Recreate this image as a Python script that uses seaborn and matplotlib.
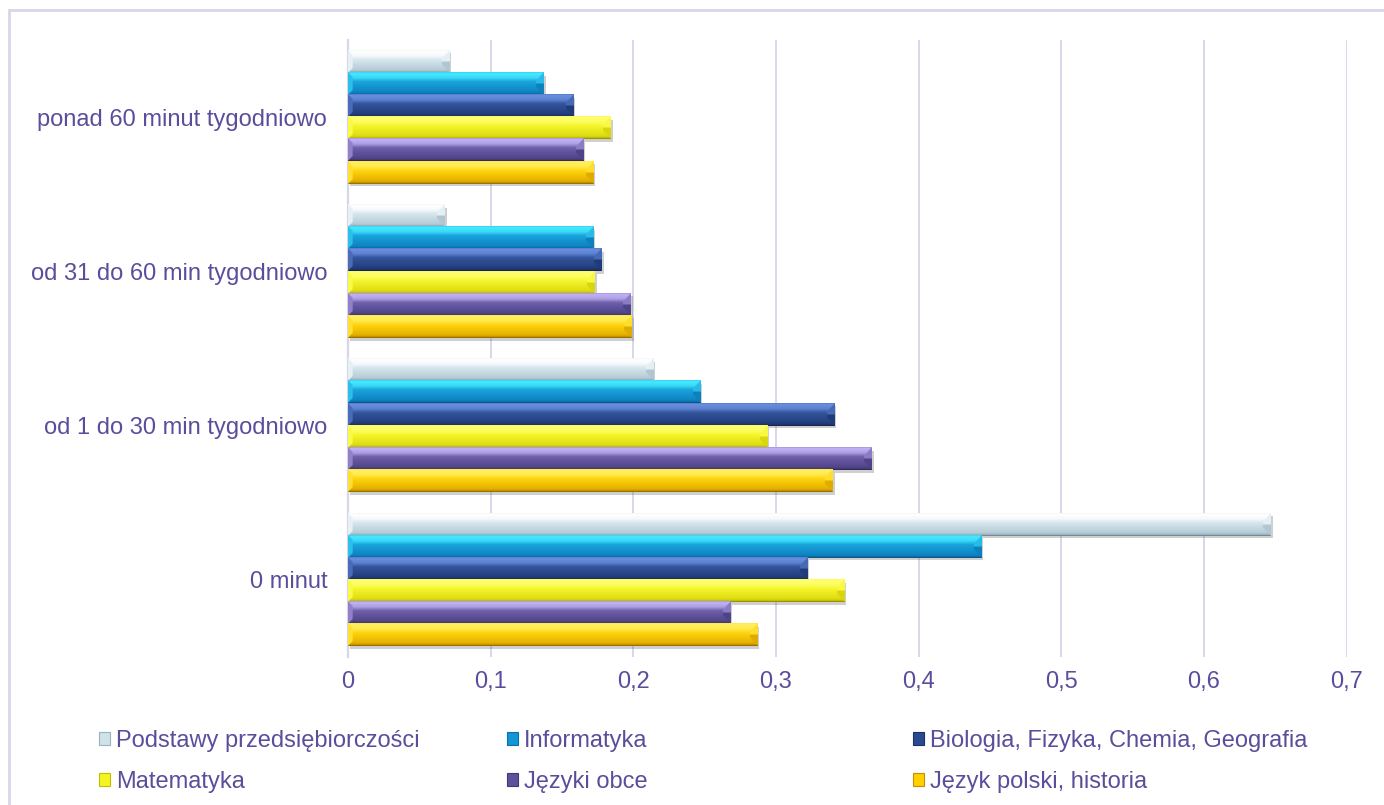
import numpy as np
import pandas as pd
import matplotlib
matplotlib.use("Agg")
import matplotlib.pyplot as plt
import matplotlib.colors as mcolors
import matplotlib.patheffects as pe
from matplotlib.patches import Patch, Rectangle
import seaborn as sns

# ---- data -------------------------------------------------------------
categories = [
    "ponad 60 minut tygodniowo",
    "od 31 do 60 min tygodniowo",
    "od 1 do 30 min tygodniowo",
    "0 minut",
]
series = [
    "Podstawy przedsiębiorczości",
    "Informatyka",
    "Biologia, Fizyka, Chemia, Geografia",
    "Matematyka",
    "Języki obce",
    "Język polski, historia",
]
podstawy = [0.071, 0.068, 0.214, 0.647]
informatyka = [0.137, 0.172, 0.247, 0.444]
biologia = [0.158, 0.178, 0.341, 0.322]
matematyka = [0.184, 0.173, 0.294, 0.348]
jezyki_obce = [0.165, 0.198, 0.367, 0.268]
polski = [0.172, 0.199, 0.340, 0.287]
x_ticks = [0, 0.1, 0.2, 0.3, 0.4, 0.5, 0.6, 0.7]
x_tick_labels = ["0", "0,1", "0,2", "0,3", "0,4", "0,5", "0,6", "0,7"]

values = [podstawy, informatyka, biologia, matematyka, jezyki_obce, polski]

# (highlight, base, shade) colour for each series
palette = {
    series[0]: ("#ffffff", "#cfe2ea", "#98b2bf"),
    series[1]: ("#44eaff", "#1296d6", "#0a70ac"),
    series[2]: ("#6a8fe0", "#2a4a90", "#1a3068"),
    series[3]: ("#ffff70", "#f4f420", "#c4be00"),
    series[4]: ("#c2b2f8", "#5f519b", "#433877"),
    series[5]: ("#fff060", "#ffcf00", "#c48e00"),
}

rows = []
for name, vals in zip(series, values):
    for cat, v in zip(categories, vals):
        rows.append({"kategoria": cat, "przedmiot": name, "udzial": v})
df = pd.DataFrame(rows)

TEXT = "#5a4e9c"
GRID = "#d9d6ea"

sns.set_style("white")
plt.rcParams["font.family"] = ["Liberation Sans", "DejaVu Sans"]

W_PX, H_PX, DPI = 1384, 805, 100
fig = plt.figure(figsize=(W_PX / DPI, H_PX / DPI), dpi=DPI)
ax = fig.add_axes([348 / W_PX, 1 - 657 / H_PX, (1346.5 - 348) / W_PX, (657 - 40) / H_PX])

sns.barplot(
    data=df, y="kategoria", x="udzial", hue="przedmiot",
    order=categories, hue_order=series, orient="h",
    palette={k: v[1] for k, v in palette.items()},
    width=0.862, gap=0, legend=False, ax=ax,
    edgecolor="none", linewidth=0, saturation=1,
)

ax.set_xlim(0, 0.7)
ax.set_ylim(3.5, -0.5)
ax.set_xticks(x_ticks)
ax.set_xticklabels(x_tick_labels)
ax.set_xlabel("")
ax.set_ylabel("")
ax.tick_params(axis="both", length=0, labelsize=17, labelcolor=TEXT)
ax.tick_params(axis="x", pad=10)
ax.tick_params(axis="y", pad=15)
ax.grid(axis="x", color=GRID, linewidth=1.4)
ax.grid(axis="y", visible=False)
ax.set_axisbelow(True)
for side in ("top", "right", "bottom"):
    ax.spines[side].set_visible(False)
ax.spines["left"].set_color(GRID)
ax.spines["left"].set_linewidth(1.6)


def mix(c1, c2, t):
    a = np.array(mcolors.to_rgb(c1))
    b = np.array(mcolors.to_rgb(c2))
    return a * (1 - t) + b * t


def bevel_image(h_px, w_px, hi, base, lo, b=8.0, scale=3):
    """Bevelled bar face: bright top band, base body, dark bottom,
    slanted end faces on the left and right."""
    H = max(int(round(h_px)) * scale, 4)
    W = max(int(round(w_px)) * scale, 4)
    bs = b * scale
    ii = (np.arange(H)[:, None] + 0.5) * np.ones((1, W))
    jj = (np.arange(W)[None, :] + 0.5) * np.ones((H, 1))
    t = ii / H
    # vertical colour profile
    stops_t = [0.0, 0.06, 0.25, 0.42, 0.85, 0.93, 1.0]
    stops_c = [
        mix(hi, base, 0.35), mix(hi, base, 0.0), mix(hi, base, 0.2),
        mix(hi, base, 0.85), mix(base, lo, 0.45), mix(base, lo, 0.8),
        mix(lo, "#000000", 0.35),
    ]
    stops_c = np.array(stops_c)
    img = np.stack([np.interp(t, stops_t, stops_c[:, k]) for k in range(3)], axis=-1)
    dt, db, dl, dr = ii, H - ii, jj, W - jj
    right_f = (dr < bs) & (dr < dt) & (dr < db)
    left_f = (dl < bs * 0.6) & (dl < dt) & (dl < db) & ~right_f
    upper = t < 0.5
    img[right_f & upper] = mix(hi, base, 0.55)
    img[right_f & ~upper] = mix(base, lo, 0.55)
    img[left_f] = mix(hi, base, 0.5)
    return np.clip(img, 0, 1)


fig.canvas.draw()
to_px = ax.transData
for container, name in zip(ax.containers, series):
    hi, base, lo = palette[name]
    for patch in container.patches:
        x0, y0 = patch.get_x(), patch.get_y()
        w, h = patch.get_width(), patch.get_height()
        (px0, py0), (px1, py1) = to_px.transform([(x0, y0), (x0 + w, y0 + h)])
        img = bevel_image(abs(py1 - py0), abs(px1 - px0), hi, base, lo)
        ax.imshow(img, extent=(x0, x0 + w, y0 + h, y0), origin="upper",
                  aspect="auto", interpolation="bilinear", zorder=3)
        patch.set_zorder(2.5)
        patch.set_path_effects([
            pe.SimplePatchShadow(offset=(1.5, -2.0), shadow_rgbFace="#606060", alpha=0.3),
            pe.Normal(),
        ])

ax.set_xlim(0, 0.7)
ax.set_ylim(3.5, -0.5)

# legend: three columns of two entries each
columns = [(0, 3), (1, 4), (2, 5)]
col_left = [99, 507, 913]
for (a, b), left in zip(columns, col_left):
    handles = [
        Patch(facecolor=palette[series[k]][1], edgecolor=palette[series[k]][2], linewidth=0.8)
        for k in (a, b)
    ]
    fig.legend(
        handles, [series[a], series[b]],
        loc="center left", bbox_to_anchor=(left / W_PX, 1 - 761.5 / H_PX),
        frameon=False, fontsize=17, labelcolor=TEXT,
        handlelength=0.47, handleheight=0.47, handletextpad=0.25,
        labelspacing=0.8, borderpad=0, borderaxespad=0,
    )

# light frame round the chart area
fig.add_artist(Rectangle((9 / W_PX, -0.05), 1.1, 1 - 10 / H_PX + 0.05,
                         transform=fig.transFigure, fill=False,
                         edgecolor=GRID, linewidth=2.0))

fig.savefig("out.png", dpi=DPI, facecolor="white")
